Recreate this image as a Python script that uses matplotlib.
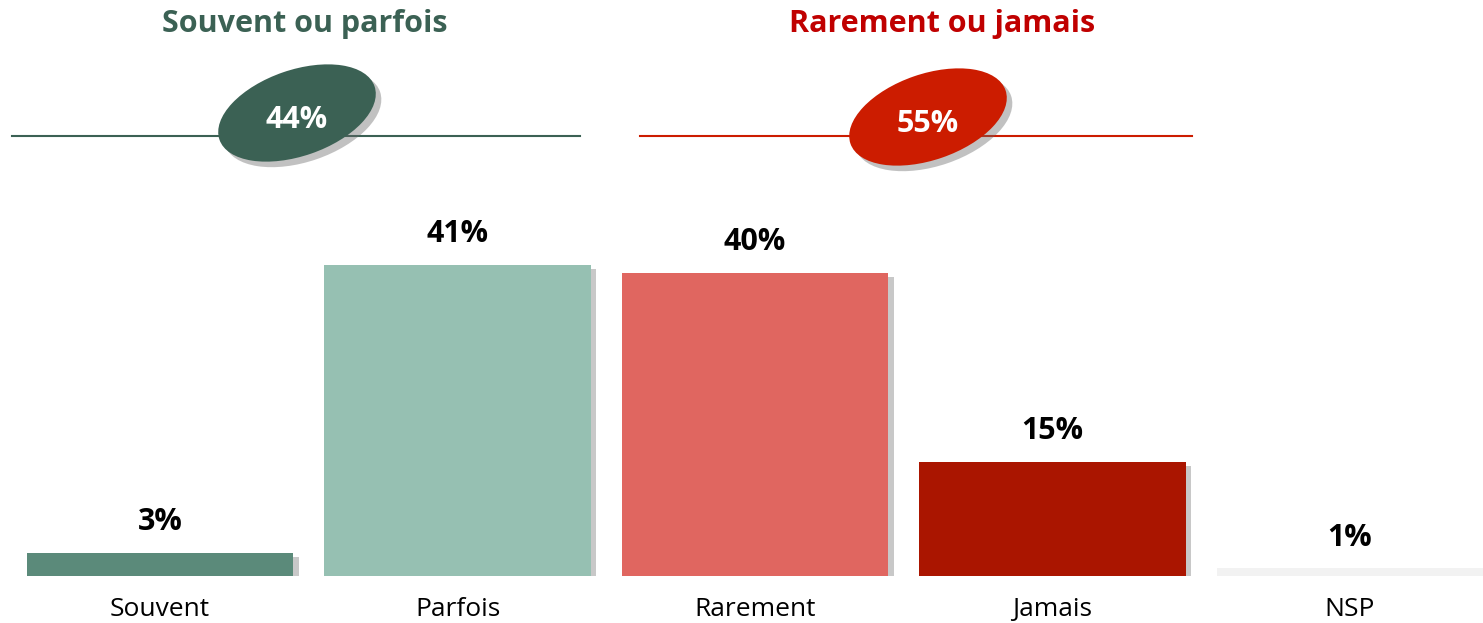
import matplotlib.pyplot as plt
import matplotlib.patheffects as pe
from matplotlib.patches import Ellipse

categories = ["Souvent", "Parfois", "Rarement", "Jamais", "NSP"]
values = [3, 41, 40, 15, 1]
bar_colors = ["#5b8a7a", "#96c0b2", "#e06660", "#aa1500", "#f2f2f2"]

group_titles = ["Souvent ou parfois", "Rarement ou jamais"]
group_totals = [44, 55]
group_colors = ["#3b6154", "#cc1c00"]
title_colors = ["#3b6154", "#c00000"]

W, H = 1483, 623
fig = plt.figure(figsize=(W / 100, H / 100), dpi=100, facecolor="white")
plt.rcParams['font.family'] = ["Open Sans", "DejaVu Sans"]

# bar area
ax = fig.add_axes([0, 47 / H, 1, 529 / H])
x = range(len(categories))
shadow = [pe.SimplePatchShadow(offset=(4, -3), shadow_rgbFace="#777777", alpha=0.4), pe.Normal()]
bars = ax.bar(x, values, width=0.895, color=bar_colors, zorder=2)
for b in bars:
    b.set_path_effects(shadow)
for xi, v in zip(x, values):
    ax.annotate(f"{v}%", (xi, v), xytext=(0, 16.5), textcoords="offset points",
                ha="center", va="baseline", fontsize=22, fontweight="bold", color="black")
ax.set_xlim(-0.538, 4.447)
ax.set_ylim(0, 529 / 7.58)
ax.set_xticks(list(x))
ax.set_xticklabels(categories, fontsize=19)
ax.tick_params(axis="x", length=0, pad=15)
ax.set_yticks([])
for s in ax.spines.values():
    s.set_visible(False)

# headers over the groups (pixel coordinates of the figure)
hx = fig.add_axes([0, 0, 1, 1], facecolor="none")
hx.set_xlim(0, W)
hx.set_ylim(H, 0)
hx.axis("off")

line_spans = [(12, 580), (640, 1192)]
title_x = [305, 942]
ell_centers = [(297, 113), (928, 117)]
for i in range(2):
    hx.plot(line_spans[i], [136, 136], color=group_colors[i], lw=1.5, zorder=1)
    hx.text(title_x[i], 32, group_titles[i], ha="center", va="baseline",
            fontsize=22, fontweight="bold", color=title_colors[i])
    e = Ellipse(ell_centers[i], 164, 86, angle=-19, facecolor=group_colors[i],
                edgecolor="none", zorder=2)
    e.set_path_effects([pe.SimplePatchShadow(offset=(4, -4), shadow_rgbFace="#666666", alpha=0.4), pe.Normal()])
    hx.add_patch(e)
    hx.text(ell_centers[i][0], ell_centers[i][1] + 15, f"{group_totals[i]}%", ha="center",
            va="baseline", fontsize=22, fontweight="bold", color="white", zorder=3)

fig.savefig("out.png", dpi=100, facecolor="white")
